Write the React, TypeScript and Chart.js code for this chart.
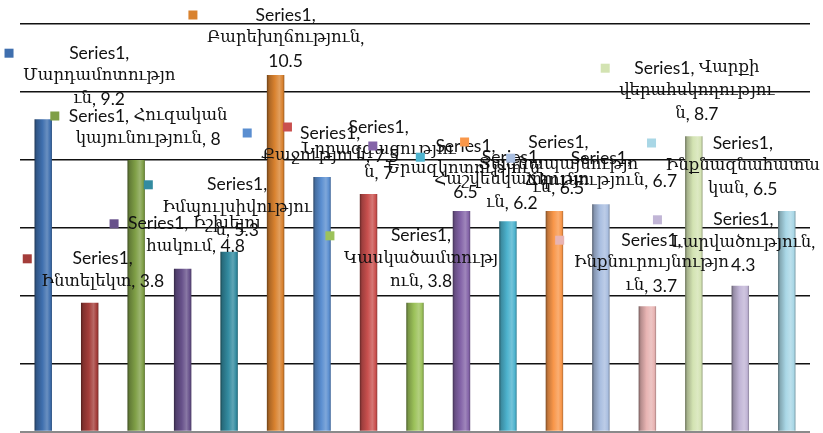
import React, { useEffect, useRef } from "react";
import { Chart, registerables } from "chart.js";

Chart.register(...registerables);

// ---------- data ----------
const seriesName = "Series1";
const categories = [
  "Մարդամոտություն",
  "Ինտելեկտ",
  "Հուզական կայունություն",
  "Իշխելու հակում",
  "Իմպուլսիվություն",
  "Բարեխղճություն",
  "Քաջություն",
  "Նրբազգացություն",
  "Կասկածամտություն",
  "Երազկոտություն",
  "Հաշվենկատություն",
  "Տագնապայնություն",
  "Ճկունություն",
  "Ինքնուրույնություն",
  "Վարքի վերահսկողություն",
  "Լարվածություն",
  "Ինքնազնահատական",
];
const values = [9.2, 3.8, 8, 4.8, 5.3, 10.5, 7.5, 7, 3.8, 6.5, 6.2, 6.5, 6.7, 3.7, 8.7, 4.3, 6.5];
const yTicks = [0, 2, 4, 6, 8, 10, 12];

// ---------- styles / layout ----------
const barColors = [
  "#3F6FAE", "#A43D3A", "#7F9F46", "#67518A", "#338BA0", "#D9822F",
  "#5A8ED0", "#C9504E", "#9CC25A", "#8464A8", "#4DB3CE", "#F9974A",
  "#A9BEE0", "#E8B4B3", "#D3E3B2", "#C1B5D6", "#A9D7E6",
];
// label block offsets: dx from bar centre, dy of first text line from bar top (px)
const labelDx = [56, 13, 12, 13, 8, 10, 8, 10, 6, 4, 4, 4, 0, 4, 3, 3, -44];
const labelDy = [-66, -44, -44, -45, -67, -60, -44, -67, -67, -65, -64, -69, -46, -66, -68, -66, -68];
// line lengths (in characters) used when wrapping each label; remainder forms the last line
const labelWrap = [
  [8, 13], [8], [17], [16], [8, 15], [8, 15], [8], [8, 14], [8, 13],
  [8, 15], [8, 14], [8, 14], [8], [8, 16], [14, 15], [8, 14], [8, 12],
];

const BAR_FRAC = 0.376;
const LATIN_FONT = "17.5px Lato";
const ARM_FONT = "16.5px 'DejaVu Serif'";
const LINE_H = 23;

function hexToRgb(h: string) {
  const n = parseInt(h.slice(1), 16);
  return [(n >> 16) & 255, (n >> 8) & 255, n & 255];
}
function shade(h: string, f: number) {
  const [r, g, b] = hexToRgb(h);
  return `rgb(${Math.round(r * f)},${Math.round(g * f)},${Math.round(b * f)})`;
}
function tint(h: string, f: number) {
  const [r, g, b] = hexToRgb(h);
  return `rgb(${Math.round(r + (255 - r) * f)},${Math.round(g + (255 - g) * f)},${Math.round(b + (255 - b) * f)})`;
}

const ARM_RE = /([\u0530-\u058F]+)/;
function segments(text: string) {
  return text
    .split(ARM_RE)
    .filter((s) => s.length > 0)
    .map((s) => ({ s, arm: /[\u0530-\u058F]/.test(s) }));
}
function measure(ctx: CanvasRenderingContext2D, text: string) {
  let w = 0;
  for (const seg of segments(text)) {
    ctx.font = seg.arm ? ARM_FONT : LATIN_FONT;
    w += ctx.measureText(seg.s).width;
  }
  return w;
}
function drawMixed(ctx: CanvasRenderingContext2D, text: string, x: number, y: number) {
  let cx = x;
  for (const seg of segments(text)) {
    ctx.font = seg.arm ? ARM_FONT : LATIN_FONT;
    ctx.fillText(seg.s, cx, y);
    cx += ctx.measureText(seg.s).width;
  }
}
function splitLines(text: string, spec: number[]) {
  const chars = Array.from(text);
  const lines: string[] = [];
  let pos = 0;
  for (const n of spec) {
    lines.push(chars.slice(pos, pos + n).join("").trim());
    pos += n;
    while (chars[pos] === " ") pos++;
  }
  if (pos < chars.length) lines.push(chars.slice(pos).join("").trim());
  return lines;
}

const labelPlugin = {
  id: "excelLabels",
  afterDatasetsDraw(chart: any) {
    const ctx: CanvasRenderingContext2D = chart.ctx;
    const meta = chart.getDatasetMeta(0);
    ctx.save();
    ctx.textBaseline = "middle";
    ctx.textAlign = "left";
    meta.data.forEach((bar: any, i: number) => {
      const text = `${seriesName}, ${categories[i]}, ${values[i]}`;
      const lines = splitLines(text, labelWrap[i]);
      const widths = lines.map((l) => measure(ctx, l));
      const maxW = Math.max(...widths);
      const cx = bar.x + labelDx[i];
      const y0 = bar.y + labelDy[i];
      ctx.fillStyle = "#111";
      lines.forEach((l, k) => {
        drawMixed(ctx, l, cx - widths[k] / 2, y0 + k * LINE_H);
      });
      const left = cx - maxW / 2;
      ctx.fillStyle = barColors[i];
      ctx.fillRect(left - 14 - 4.5, y0 - 4.5, 9, 9);
    });
    ctx.restore();
  },
};

export default function App() {
  const ref = useRef<HTMLCanvasElement>(null);
  useEffect(() => {
    document.body.style.margin = "0";
    const canvas = ref.current!;
    const chart = new Chart(canvas, {
      type: "bar",
      data: {
        labels: categories,
        datasets: [
          {
            label: seriesName,
            data: values,
            backgroundColor: (c: any) => {
              const ch = c.chart;
              const xs = ch.scales?.x;
              const area = ch.chartArea;
              const base = barColors[c.dataIndex];
              if (!xs || !area || c.dataIndex === undefined) return base;
              const cx = xs.getPixelForValue(c.dataIndex);
              const w = ((area.right - area.left) / values.length) * BAR_FRAC;
              const g = ch.ctx.createLinearGradient(cx - w / 2, 0, cx + w / 2, 0);
              g.addColorStop(0, shade(base, 0.5));
              g.addColorStop(0.12, shade(base, 0.78));
              g.addColorStop(0.45, base);
              g.addColorStop(0.72, tint(base, 0.22));
              g.addColorStop(0.9, base);
              g.addColorStop(1, shade(base, 0.72));
              return g;
            },
            borderWidth: 0,
            barPercentage: BAR_FRAC,
            categoryPercentage: 1,
          },
        ],
      },
      options: {
        animation: false,
        responsive: true,
        maintainAspectRatio: false,
        layout: { padding: { left: 20, right: 13, top: 24, bottom: 1 } },
        plugins: { legend: { display: false }, tooltip: { enabled: false } },
        scales: {
          x: { display: false },
          y: {
            min: yTicks[0],
            max: yTicks[yTicks.length - 1],
            afterBuildTicks: (s: any) => {
              s.ticks = yTicks.map((v) => ({ value: v }));
            },
            ticks: { display: false },
            border: { display: false },
            grid: {
              drawTicks: false,
              color: (c: any) => (c.tick && c.tick.value === 0 ? "#8a8a8a" : "#111"),
              lineWidth: (c: any) => (c.tick && c.tick.value === 0 ? 2.5 : 1.4),
            },
          },
        },
      },
      plugins: [labelPlugin],
    });
    return () => chart.destroy();
  }, []);
  return (
    <div style={{ position: "absolute", left: 0, top: 0, width: 823, height: 433, background: "#fff" }}>
      <canvas ref={ref} />
    </div>
  );
}
